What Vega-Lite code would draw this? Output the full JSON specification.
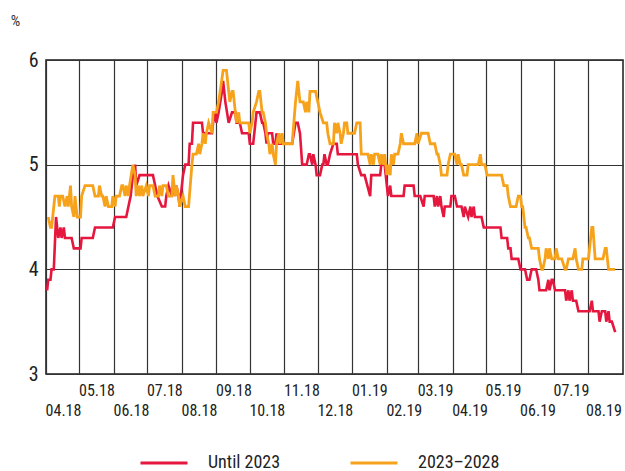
{
  "$schema": "https://vega.github.io/schema/vega-lite/v6.json",
  "width": 577,
  "height": 314,
  "autosize": {"type": "none"},
  "padding": {"left": 46, "top": 60, "right": 2, "bottom": 97},
  "background": "white",
  "config": {
    "view": {"stroke": "#1a1a1a", "strokeWidth": 1.5},
    "font": "Roboto Condensed, Liberation Sans Narrow, Roboto, sans-serif"
  },
  "datasets": {
    "rates": [
      {"date": "2018-04-02", "series": "Until 2023", "value": 3.8},
      {"date": "2018-04-03", "series": "Until 2023", "value": 3.9},
      {"date": "2018-04-05", "series": "Until 2023", "value": 3.9},
      {"date": "2018-04-06", "series": "Until 2023", "value": 4.0},
      {"date": "2018-04-08", "series": "Until 2023", "value": 4.0},
      {"date": "2018-04-10", "series": "Until 2023", "value": 4.5},
      {"date": "2018-04-12", "series": "Until 2023", "value": 4.3},
      {"date": "2018-04-14", "series": "Until 2023", "value": 4.4},
      {"date": "2018-04-15", "series": "Until 2023", "value": 4.3},
      {"date": "2018-04-17", "series": "Until 2023", "value": 4.4},
      {"date": "2018-04-18", "series": "Until 2023", "value": 4.3},
      {"date": "2018-04-24", "series": "Until 2023", "value": 4.3},
      {"date": "2018-04-26", "series": "Until 2023", "value": 4.2},
      {"date": "2018-05-02", "series": "Until 2023", "value": 4.2},
      {"date": "2018-05-03", "series": "Until 2023", "value": 4.3},
      {"date": "2018-05-13", "series": "Until 2023", "value": 4.3},
      {"date": "2018-05-15", "series": "Until 2023", "value": 4.4},
      {"date": "2018-05-31", "series": "Until 2023", "value": 4.4},
      {"date": "2018-06-02", "series": "Until 2023", "value": 4.5},
      {"date": "2018-06-12", "series": "Until 2023", "value": 4.5},
      {"date": "2018-06-14", "series": "Until 2023", "value": 4.6},
      {"date": "2018-06-16", "series": "Until 2023", "value": 4.7},
      {"date": "2018-06-18", "series": "Until 2023", "value": 4.9},
      {"date": "2018-06-20", "series": "Until 2023", "value": 5.0},
      {"date": "2018-06-21", "series": "Until 2023", "value": 4.8},
      {"date": "2018-06-24", "series": "Until 2023", "value": 4.9},
      {"date": "2018-07-06", "series": "Until 2023", "value": 4.9},
      {"date": "2018-07-08", "series": "Until 2023", "value": 4.8},
      {"date": "2018-07-10", "series": "Until 2023", "value": 4.7},
      {"date": "2018-07-14", "series": "Until 2023", "value": 4.6},
      {"date": "2018-07-17", "series": "Until 2023", "value": 4.6},
      {"date": "2018-07-18", "series": "Until 2023", "value": 4.7},
      {"date": "2018-07-20", "series": "Until 2023", "value": 4.8},
      {"date": "2018-07-23", "series": "Until 2023", "value": 4.7},
      {"date": "2018-07-24", "series": "Until 2023", "value": 4.8},
      {"date": "2018-07-26", "series": "Until 2023", "value": 4.7},
      {"date": "2018-07-27", "series": "Until 2023", "value": 4.8},
      {"date": "2018-07-29", "series": "Until 2023", "value": 4.7},
      {"date": "2018-07-30", "series": "Until 2023", "value": 4.6},
      {"date": "2018-08-01", "series": "Until 2023", "value": 4.8},
      {"date": "2018-08-02", "series": "Until 2023", "value": 4.9},
      {"date": "2018-08-04", "series": "Until 2023", "value": 5.0},
      {"date": "2018-08-07", "series": "Until 2023", "value": 5.0},
      {"date": "2018-08-08", "series": "Until 2023", "value": 5.2},
      {"date": "2018-08-10", "series": "Until 2023", "value": 5.2},
      {"date": "2018-08-11", "series": "Until 2023", "value": 5.4},
      {"date": "2018-08-19", "series": "Until 2023", "value": 5.4},
      {"date": "2018-08-20", "series": "Until 2023", "value": 5.3},
      {"date": "2018-08-28", "series": "Until 2023", "value": 5.3},
      {"date": "2018-08-29", "series": "Until 2023", "value": 5.4},
      {"date": "2018-08-31", "series": "Until 2023", "value": 5.5},
      {"date": "2018-09-01", "series": "Until 2023", "value": 5.4},
      {"date": "2018-09-03", "series": "Until 2023", "value": 5.5},
      {"date": "2018-09-06", "series": "Until 2023", "value": 5.7},
      {"date": "2018-09-07", "series": "Until 2023", "value": 5.8},
      {"date": "2018-09-09", "series": "Until 2023", "value": 5.6},
      {"date": "2018-09-12", "series": "Until 2023", "value": 5.4},
      {"date": "2018-09-15", "series": "Until 2023", "value": 5.5},
      {"date": "2018-09-18", "series": "Until 2023", "value": 5.5},
      {"date": "2018-09-19", "series": "Until 2023", "value": 5.4},
      {"date": "2018-09-22", "series": "Until 2023", "value": 5.4},
      {"date": "2018-09-24", "series": "Until 2023", "value": 5.3},
      {"date": "2018-09-30", "series": "Until 2023", "value": 5.3},
      {"date": "2018-10-01", "series": "Until 2023", "value": 5.2},
      {"date": "2018-10-04", "series": "Until 2023", "value": 5.2},
      {"date": "2018-10-06", "series": "Until 2023", "value": 5.4},
      {"date": "2018-10-07", "series": "Until 2023", "value": 5.5},
      {"date": "2018-10-10", "series": "Until 2023", "value": 5.5},
      {"date": "2018-10-12", "series": "Until 2023", "value": 5.4},
      {"date": "2018-10-13", "series": "Until 2023", "value": 5.4},
      {"date": "2018-10-15", "series": "Until 2023", "value": 5.3},
      {"date": "2018-10-16", "series": "Until 2023", "value": 5.2},
      {"date": "2018-10-17", "series": "Until 2023", "value": 5.3},
      {"date": "2018-10-21", "series": "Until 2023", "value": 5.3},
      {"date": "2018-10-22", "series": "Until 2023", "value": 5.2},
      {"date": "2018-10-24", "series": "Until 2023", "value": 5.2},
      {"date": "2018-10-25", "series": "Until 2023", "value": 5.3},
      {"date": "2018-10-27", "series": "Until 2023", "value": 5.2},
      {"date": "2018-11-08", "series": "Until 2023", "value": 5.2},
      {"date": "2018-11-11", "series": "Until 2023", "value": 5.4},
      {"date": "2018-11-13", "series": "Until 2023", "value": 5.4},
      {"date": "2018-11-15", "series": "Until 2023", "value": 5.3},
      {"date": "2018-11-17", "series": "Until 2023", "value": 5.0},
      {"date": "2018-11-21", "series": "Until 2023", "value": 5.0},
      {"date": "2018-11-23", "series": "Until 2023", "value": 5.1},
      {"date": "2018-11-24", "series": "Until 2023", "value": 5.1},
      {"date": "2018-11-26", "series": "Until 2023", "value": 5.0},
      {"date": "2018-11-27", "series": "Until 2023", "value": 5.1},
      {"date": "2018-11-29", "series": "Until 2023", "value": 5.0},
      {"date": "2018-11-30", "series": "Until 2023", "value": 4.9},
      {"date": "2018-12-03", "series": "Until 2023", "value": 4.9},
      {"date": "2018-12-05", "series": "Until 2023", "value": 5.0},
      {"date": "2018-12-06", "series": "Until 2023", "value": 5.0},
      {"date": "2018-12-07", "series": "Until 2023", "value": 5.1},
      {"date": "2018-12-09", "series": "Until 2023", "value": 5.0},
      {"date": "2018-12-10", "series": "Until 2023", "value": 5.0},
      {"date": "2018-12-12", "series": "Until 2023", "value": 5.1},
      {"date": "2018-12-15", "series": "Until 2023", "value": 5.2},
      {"date": "2018-12-18", "series": "Until 2023", "value": 5.2},
      {"date": "2018-12-19", "series": "Until 2023", "value": 5.1},
      {"date": "2019-01-05", "series": "Until 2023", "value": 5.1},
      {"date": "2019-01-06", "series": "Until 2023", "value": 5.0},
      {"date": "2019-01-09", "series": "Until 2023", "value": 4.9},
      {"date": "2019-01-12", "series": "Until 2023", "value": 4.9},
      {"date": "2019-01-17", "series": "Until 2023", "value": 4.7},
      {"date": "2019-01-18", "series": "Until 2023", "value": 4.9},
      {"date": "2019-01-26", "series": "Until 2023", "value": 4.9},
      {"date": "2019-01-27", "series": "Until 2023", "value": 5.0},
      {"date": "2019-01-30", "series": "Until 2023", "value": 5.0},
      {"date": "2019-02-01", "series": "Until 2023", "value": 4.8},
      {"date": "2019-02-02", "series": "Until 2023", "value": 4.7},
      {"date": "2019-02-04", "series": "Until 2023", "value": 4.8},
      {"date": "2019-02-05", "series": "Until 2023", "value": 4.7},
      {"date": "2019-02-16", "series": "Until 2023", "value": 4.7},
      {"date": "2019-02-17", "series": "Until 2023", "value": 4.8},
      {"date": "2019-02-25", "series": "Until 2023", "value": 4.8},
      {"date": "2019-02-26", "series": "Until 2023", "value": 4.7},
      {"date": "2019-03-03", "series": "Until 2023", "value": 4.7},
      {"date": "2019-03-06", "series": "Until 2023", "value": 4.6},
      {"date": "2019-03-07", "series": "Until 2023", "value": 4.7},
      {"date": "2019-03-15", "series": "Until 2023", "value": 4.7},
      {"date": "2019-03-16", "series": "Until 2023", "value": 4.6},
      {"date": "2019-03-18", "series": "Until 2023", "value": 4.7},
      {"date": "2019-03-19", "series": "Until 2023", "value": 4.6},
      {"date": "2019-03-21", "series": "Until 2023", "value": 4.7},
      {"date": "2019-03-22", "series": "Until 2023", "value": 4.6},
      {"date": "2019-03-24", "series": "Until 2023", "value": 4.5},
      {"date": "2019-03-25", "series": "Until 2023", "value": 4.6},
      {"date": "2019-03-30", "series": "Until 2023", "value": 4.6},
      {"date": "2019-03-31", "series": "Until 2023", "value": 4.7},
      {"date": "2019-04-03", "series": "Until 2023", "value": 4.7},
      {"date": "2019-04-05", "series": "Until 2023", "value": 4.6},
      {"date": "2019-04-09", "series": "Until 2023", "value": 4.6},
      {"date": "2019-04-11", "series": "Until 2023", "value": 4.5},
      {"date": "2019-04-12", "series": "Until 2023", "value": 4.6},
      {"date": "2019-04-15", "series": "Until 2023", "value": 4.5},
      {"date": "2019-04-17", "series": "Until 2023", "value": 4.6},
      {"date": "2019-04-18", "series": "Until 2023", "value": 4.5},
      {"date": "2019-04-20", "series": "Until 2023", "value": 4.6},
      {"date": "2019-04-21", "series": "Until 2023", "value": 4.5},
      {"date": "2019-04-27", "series": "Until 2023", "value": 4.5},
      {"date": "2019-04-29", "series": "Until 2023", "value": 4.4},
      {"date": "2019-05-14", "series": "Until 2023", "value": 4.4},
      {"date": "2019-05-15", "series": "Until 2023", "value": 4.3},
      {"date": "2019-05-20", "series": "Until 2023", "value": 4.3},
      {"date": "2019-05-21", "series": "Until 2023", "value": 4.2},
      {"date": "2019-05-23", "series": "Until 2023", "value": 4.2},
      {"date": "2019-05-24", "series": "Until 2023", "value": 4.1},
      {"date": "2019-05-30", "series": "Until 2023", "value": 4.1},
      {"date": "2019-06-01", "series": "Until 2023", "value": 4.0},
      {"date": "2019-06-05", "series": "Until 2023", "value": 4.0},
      {"date": "2019-06-07", "series": "Until 2023", "value": 3.9},
      {"date": "2019-06-09", "series": "Until 2023", "value": 3.9},
      {"date": "2019-06-11", "series": "Until 2023", "value": 4.0},
      {"date": "2019-06-15", "series": "Until 2023", "value": 4.0},
      {"date": "2019-06-17", "series": "Until 2023", "value": 3.9},
      {"date": "2019-06-18", "series": "Until 2023", "value": 3.8},
      {"date": "2019-06-24", "series": "Until 2023", "value": 3.8},
      {"date": "2019-06-26", "series": "Until 2023", "value": 3.9},
      {"date": "2019-06-27", "series": "Until 2023", "value": 3.8},
      {"date": "2019-06-29", "series": "Until 2023", "value": 3.9},
      {"date": "2019-06-30", "series": "Until 2023", "value": 3.9},
      {"date": "2019-07-02", "series": "Until 2023", "value": 3.8},
      {"date": "2019-07-11", "series": "Until 2023", "value": 3.8},
      {"date": "2019-07-12", "series": "Until 2023", "value": 3.7},
      {"date": "2019-07-14", "series": "Until 2023", "value": 3.8},
      {"date": "2019-07-15", "series": "Until 2023", "value": 3.7},
      {"date": "2019-07-17", "series": "Until 2023", "value": 3.8},
      {"date": "2019-07-18", "series": "Until 2023", "value": 3.7},
      {"date": "2019-07-21", "series": "Until 2023", "value": 3.7},
      {"date": "2019-07-23", "series": "Until 2023", "value": 3.6},
      {"date": "2019-08-02", "series": "Until 2023", "value": 3.6},
      {"date": "2019-08-04", "series": "Until 2023", "value": 3.7},
      {"date": "2019-08-05", "series": "Until 2023", "value": 3.6},
      {"date": "2019-08-10", "series": "Until 2023", "value": 3.6},
      {"date": "2019-08-11", "series": "Until 2023", "value": 3.5},
      {"date": "2019-08-13", "series": "Until 2023", "value": 3.6},
      {"date": "2019-08-16", "series": "Until 2023", "value": 3.6},
      {"date": "2019-08-17", "series": "Until 2023", "value": 3.5},
      {"date": "2019-08-19", "series": "Until 2023", "value": 3.6},
      {"date": "2019-08-20", "series": "Until 2023", "value": 3.5},
      {"date": "2019-08-22", "series": "Until 2023", "value": 3.5},
      {"date": "2019-08-25", "series": "Until 2023", "value": 3.4},

      {"date": "2018-04-03", "series": "2023–2028", "value": 4.5},
      {"date": "2018-04-05", "series": "2023–2028", "value": 4.4},
      {"date": "2018-04-06", "series": "2023–2028", "value": 4.4},
      {"date": "2018-04-07", "series": "2023–2028", "value": 4.5},
      {"date": "2018-04-09", "series": "2023–2028", "value": 4.7},
      {"date": "2018-04-12", "series": "2023–2028", "value": 4.7},
      {"date": "2018-04-13", "series": "2023–2028", "value": 4.6},
      {"date": "2018-04-14", "series": "2023–2028", "value": 4.7},
      {"date": "2018-04-16", "series": "2023–2028", "value": 4.7},
      {"date": "2018-04-18", "series": "2023–2028", "value": 4.6},
      {"date": "2018-04-20", "series": "2023–2028", "value": 4.7},
      {"date": "2018-04-21", "series": "2023–2028", "value": 4.6},
      {"date": "2018-04-23", "series": "2023–2028", "value": 4.8},
      {"date": "2018-04-24", "series": "2023–2028", "value": 4.6},
      {"date": "2018-04-26", "series": "2023–2028", "value": 4.5},
      {"date": "2018-04-27", "series": "2023–2028", "value": 4.7},
      {"date": "2018-04-29", "series": "2023–2028", "value": 4.5},
      {"date": "2018-05-02", "series": "2023–2028", "value": 4.5},
      {"date": "2018-05-03", "series": "2023–2028", "value": 4.7},
      {"date": "2018-05-06", "series": "2023–2028", "value": 4.8},
      {"date": "2018-05-13", "series": "2023–2028", "value": 4.8},
      {"date": "2018-05-15", "series": "2023–2028", "value": 4.7},
      {"date": "2018-05-18", "series": "2023–2028", "value": 4.7},
      {"date": "2018-05-19", "series": "2023–2028", "value": 4.8},
      {"date": "2018-05-21", "series": "2023–2028", "value": 4.7},
      {"date": "2018-05-22", "series": "2023–2028", "value": 4.7},
      {"date": "2018-05-24", "series": "2023–2028", "value": 4.6},
      {"date": "2018-05-25", "series": "2023–2028", "value": 4.7},
      {"date": "2018-05-27", "series": "2023–2028", "value": 4.6},
      {"date": "2018-05-30", "series": "2023–2028", "value": 4.6},
      {"date": "2018-05-31", "series": "2023–2028", "value": 4.7},
      {"date": "2018-06-02", "series": "2023–2028", "value": 4.6},
      {"date": "2018-06-03", "series": "2023–2028", "value": 4.7},
      {"date": "2018-06-06", "series": "2023–2028", "value": 4.7},
      {"date": "2018-06-08", "series": "2023–2028", "value": 4.8},
      {"date": "2018-06-09", "series": "2023–2028", "value": 4.8},
      {"date": "2018-06-11", "series": "2023–2028", "value": 4.7},
      {"date": "2018-06-12", "series": "2023–2028", "value": 4.8},
      {"date": "2018-06-14", "series": "2023–2028", "value": 4.7},
      {"date": "2018-06-15", "series": "2023–2028", "value": 4.8},
      {"date": "2018-06-18", "series": "2023–2028", "value": 5.0},
      {"date": "2018-06-20", "series": "2023–2028", "value": 4.9},
      {"date": "2018-06-21", "series": "2023–2028", "value": 4.7},
      {"date": "2018-06-23", "series": "2023–2028", "value": 4.8},
      {"date": "2018-06-24", "series": "2023–2028", "value": 4.7},
      {"date": "2018-06-26", "series": "2023–2028", "value": 4.8},
      {"date": "2018-06-27", "series": "2023–2028", "value": 4.7},
      {"date": "2018-06-30", "series": "2023–2028", "value": 4.8},
      {"date": "2018-07-02", "series": "2023–2028", "value": 4.7},
      {"date": "2018-07-03", "series": "2023–2028", "value": 4.8},
      {"date": "2018-07-06", "series": "2023–2028", "value": 4.8},
      {"date": "2018-07-08", "series": "2023–2028", "value": 4.7},
      {"date": "2018-07-11", "series": "2023–2028", "value": 4.7},
      {"date": "2018-07-12", "series": "2023–2028", "value": 4.8},
      {"date": "2018-07-14", "series": "2023–2028", "value": 4.7},
      {"date": "2018-07-15", "series": "2023–2028", "value": 4.8},
      {"date": "2018-07-18", "series": "2023–2028", "value": 4.8},
      {"date": "2018-07-20", "series": "2023–2028", "value": 4.7},
      {"date": "2018-07-23", "series": "2023–2028", "value": 4.7},
      {"date": "2018-07-24", "series": "2023–2028", "value": 4.9},
      {"date": "2018-07-26", "series": "2023–2028", "value": 4.7},
      {"date": "2018-07-27", "series": "2023–2028", "value": 4.8},
      {"date": "2018-07-29", "series": "2023–2028", "value": 4.7},
      {"date": "2018-07-30", "series": "2023–2028", "value": 4.6},
      {"date": "2018-08-02", "series": "2023–2028", "value": 4.7},
      {"date": "2018-08-04", "series": "2023–2028", "value": 4.6},
      {"date": "2018-08-07", "series": "2023–2028", "value": 4.6},
      {"date": "2018-08-10", "series": "2023–2028", "value": 5.0},
      {"date": "2018-08-11", "series": "2023–2028", "value": 5.1},
      {"date": "2018-08-14", "series": "2023–2028", "value": 5.1},
      {"date": "2018-08-16", "series": "2023–2028", "value": 5.2},
      {"date": "2018-08-17", "series": "2023–2028", "value": 5.1},
      {"date": "2018-08-19", "series": "2023–2028", "value": 5.2},
      {"date": "2018-08-20", "series": "2023–2028", "value": 5.3},
      {"date": "2018-08-22", "series": "2023–2028", "value": 5.2},
      {"date": "2018-08-23", "series": "2023–2028", "value": 5.3},
      {"date": "2018-08-25", "series": "2023–2028", "value": 5.4},
      {"date": "2018-08-28", "series": "2023–2028", "value": 5.3},
      {"date": "2018-08-29", "series": "2023–2028", "value": 5.5},
      {"date": "2018-09-01", "series": "2023–2028", "value": 5.5},
      {"date": "2018-09-03", "series": "2023–2028", "value": 5.6},
      {"date": "2018-09-07", "series": "2023–2028", "value": 5.9},
      {"date": "2018-09-10", "series": "2023–2028", "value": 5.9},
      {"date": "2018-09-12", "series": "2023–2028", "value": 5.7},
      {"date": "2018-09-13", "series": "2023–2028", "value": 5.6},
      {"date": "2018-09-15", "series": "2023–2028", "value": 5.7},
      {"date": "2018-09-16", "series": "2023–2028", "value": 5.7},
      {"date": "2018-09-18", "series": "2023–2028", "value": 5.5},
      {"date": "2018-09-19", "series": "2023–2028", "value": 5.4},
      {"date": "2018-09-21", "series": "2023–2028", "value": 5.5},
      {"date": "2018-09-22", "series": "2023–2028", "value": 5.4},
      {"date": "2018-09-30", "series": "2023–2028", "value": 5.4},
      {"date": "2018-10-01", "series": "2023–2028", "value": 5.3},
      {"date": "2018-10-03", "series": "2023–2028", "value": 5.4},
      {"date": "2018-10-04", "series": "2023–2028", "value": 5.5},
      {"date": "2018-10-07", "series": "2023–2028", "value": 5.6},
      {"date": "2018-10-09", "series": "2023–2028", "value": 5.7},
      {"date": "2018-10-10", "series": "2023–2028", "value": 5.7},
      {"date": "2018-10-12", "series": "2023–2028", "value": 5.5},
      {"date": "2018-10-13", "series": "2023–2028", "value": 5.5},
      {"date": "2018-10-15", "series": "2023–2028", "value": 5.4},
      {"date": "2018-10-16", "series": "2023–2028", "value": 5.3},
      {"date": "2018-10-18", "series": "2023–2028", "value": 5.2},
      {"date": "2018-10-19", "series": "2023–2028", "value": 5.1},
      {"date": "2018-10-21", "series": "2023–2028", "value": 5.2},
      {"date": "2018-10-22", "series": "2023–2028", "value": 5.1},
      {"date": "2018-10-24", "series": "2023–2028", "value": 5.0},
      {"date": "2018-10-25", "series": "2023–2028", "value": 5.2},
      {"date": "2018-10-27", "series": "2023–2028", "value": 5.3},
      {"date": "2018-10-28", "series": "2023–2028", "value": 5.2},
      {"date": "2018-10-30", "series": "2023–2028", "value": 5.3},
      {"date": "2018-10-31", "series": "2023–2028", "value": 5.2},
      {"date": "2018-11-08", "series": "2023–2028", "value": 5.2},
      {"date": "2018-11-11", "series": "2023–2028", "value": 5.6},
      {"date": "2018-11-13", "series": "2023–2028", "value": 5.8},
      {"date": "2018-11-15", "series": "2023–2028", "value": 5.6},
      {"date": "2018-11-18", "series": "2023–2028", "value": 5.6},
      {"date": "2018-11-20", "series": "2023–2028", "value": 5.5},
      {"date": "2018-11-21", "series": "2023–2028", "value": 5.6},
      {"date": "2018-11-23", "series": "2023–2028", "value": 5.5},
      {"date": "2018-11-24", "series": "2023–2028", "value": 5.7},
      {"date": "2018-11-29", "series": "2023–2028", "value": 5.7},
      {"date": "2018-12-01", "series": "2023–2028", "value": 5.6},
      {"date": "2018-12-03", "series": "2023–2028", "value": 5.5},
      {"date": "2018-12-06", "series": "2023–2028", "value": 5.4},
      {"date": "2018-12-09", "series": "2023–2028", "value": 5.4},
      {"date": "2018-12-10", "series": "2023–2028", "value": 5.3},
      {"date": "2018-12-12", "series": "2023–2028", "value": 5.2},
      {"date": "2018-12-15", "series": "2023–2028", "value": 5.2},
      {"date": "2018-12-16", "series": "2023–2028", "value": 5.4},
      {"date": "2018-12-18", "series": "2023–2028", "value": 5.3},
      {"date": "2018-12-19", "series": "2023–2028", "value": 5.4},
      {"date": "2018-12-21", "series": "2023–2028", "value": 5.3},
      {"date": "2018-12-22", "series": "2023–2028", "value": 5.2},
      {"date": "2018-12-24", "series": "2023–2028", "value": 5.3},
      {"date": "2018-12-25", "series": "2023–2028", "value": 5.4},
      {"date": "2018-12-27", "series": "2023–2028", "value": 5.4},
      {"date": "2018-12-28", "series": "2023–2028", "value": 5.3},
      {"date": "2019-01-03", "series": "2023–2028", "value": 5.3},
      {"date": "2019-01-05", "series": "2023–2028", "value": 5.4},
      {"date": "2019-01-08", "series": "2023–2028", "value": 5.4},
      {"date": "2019-01-09", "series": "2023–2028", "value": 5.1},
      {"date": "2019-01-15", "series": "2023–2028", "value": 5.1},
      {"date": "2019-01-17", "series": "2023–2028", "value": 5.0},
      {"date": "2019-01-18", "series": "2023–2028", "value": 5.1},
      {"date": "2019-01-20", "series": "2023–2028", "value": 5.0},
      {"date": "2019-01-21", "series": "2023–2028", "value": 5.1},
      {"date": "2019-01-24", "series": "2023–2028", "value": 5.1},
      {"date": "2019-01-26", "series": "2023–2028", "value": 5.0},
      {"date": "2019-01-27", "series": "2023–2028", "value": 5.1},
      {"date": "2019-01-29", "series": "2023–2028", "value": 5.0},
      {"date": "2019-01-30", "series": "2023–2028", "value": 5.1},
      {"date": "2019-02-01", "series": "2023–2028", "value": 4.9},
      {"date": "2019-02-02", "series": "2023–2028", "value": 5.0},
      {"date": "2019-02-04", "series": "2023–2028", "value": 4.9},
      {"date": "2019-02-05", "series": "2023–2028", "value": 5.1},
      {"date": "2019-02-07", "series": "2023–2028", "value": 5.0},
      {"date": "2019-02-08", "series": "2023–2028", "value": 5.1},
      {"date": "2019-02-11", "series": "2023–2028", "value": 5.1},
      {"date": "2019-02-13", "series": "2023–2028", "value": 5.2},
      {"date": "2019-02-14", "series": "2023–2028", "value": 5.3},
      {"date": "2019-02-16", "series": "2023–2028", "value": 5.2},
      {"date": "2019-02-26", "series": "2023–2028", "value": 5.2},
      {"date": "2019-02-28", "series": "2023–2028", "value": 5.3},
      {"date": "2019-03-01", "series": "2023–2028", "value": 5.2},
      {"date": "2019-03-04", "series": "2023–2028", "value": 5.3},
      {"date": "2019-03-10", "series": "2023–2028", "value": 5.3},
      {"date": "2019-03-12", "series": "2023–2028", "value": 5.2},
      {"date": "2019-03-16", "series": "2023–2028", "value": 5.2},
      {"date": "2019-03-18", "series": "2023–2028", "value": 5.1},
      {"date": "2019-03-19", "series": "2023–2028", "value": 5.1},
      {"date": "2019-03-21", "series": "2023–2028", "value": 5.0},
      {"date": "2019-03-22", "series": "2023–2028", "value": 4.9},
      {"date": "2019-03-27", "series": "2023–2028", "value": 4.9},
      {"date": "2019-03-28", "series": "2023–2028", "value": 5.0},
      {"date": "2019-03-30", "series": "2023–2028", "value": 5.1},
      {"date": "2019-04-03", "series": "2023–2028", "value": 5.1},
      {"date": "2019-04-05", "series": "2023–2028", "value": 5.0},
      {"date": "2019-04-06", "series": "2023–2028", "value": 5.1},
      {"date": "2019-04-08", "series": "2023–2028", "value": 5.0},
      {"date": "2019-04-09", "series": "2023–2028", "value": 5.0},
      {"date": "2019-04-11", "series": "2023–2028", "value": 4.9},
      {"date": "2019-04-14", "series": "2023–2028", "value": 4.9},
      {"date": "2019-04-15", "series": "2023–2028", "value": 5.0},
      {"date": "2019-04-24", "series": "2023–2028", "value": 5.0},
      {"date": "2019-04-26", "series": "2023–2028", "value": 5.1},
      {"date": "2019-04-27", "series": "2023–2028", "value": 5.0},
      {"date": "2019-04-30", "series": "2023–2028", "value": 5.0},
      {"date": "2019-05-02", "series": "2023–2028", "value": 4.9},
      {"date": "2019-05-15", "series": "2023–2028", "value": 4.9},
      {"date": "2019-05-17", "series": "2023–2028", "value": 4.8},
      {"date": "2019-05-20", "series": "2023–2028", "value": 4.8},
      {"date": "2019-05-21", "series": "2023–2028", "value": 4.7},
      {"date": "2019-05-23", "series": "2023–2028", "value": 4.6},
      {"date": "2019-05-28", "series": "2023–2028", "value": 4.6},
      {"date": "2019-05-30", "series": "2023–2028", "value": 4.7},
      {"date": "2019-06-01", "series": "2023–2028", "value": 4.7},
      {"date": "2019-06-02", "series": "2023–2028", "value": 4.6},
      {"date": "2019-06-03", "series": "2023–2028", "value": 4.6},
      {"date": "2019-06-05", "series": "2023–2028", "value": 4.4},
      {"date": "2019-06-06", "series": "2023–2028", "value": 4.4},
      {"date": "2019-06-08", "series": "2023–2028", "value": 4.3},
      {"date": "2019-06-09", "series": "2023–2028", "value": 4.3},
      {"date": "2019-06-11", "series": "2023–2028", "value": 4.2},
      {"date": "2019-06-17", "series": "2023–2028", "value": 4.2},
      {"date": "2019-06-18", "series": "2023–2028", "value": 4.1},
      {"date": "2019-06-20", "series": "2023–2028", "value": 4.0},
      {"date": "2019-06-21", "series": "2023–2028", "value": 4.0},
      {"date": "2019-06-23", "series": "2023–2028", "value": 4.1},
      {"date": "2019-06-24", "series": "2023–2028", "value": 4.2},
      {"date": "2019-06-26", "series": "2023–2028", "value": 4.1},
      {"date": "2019-06-27", "series": "2023–2028", "value": 4.2},
      {"date": "2019-06-29", "series": "2023–2028", "value": 4.1},
      {"date": "2019-07-02", "series": "2023–2028", "value": 4.1},
      {"date": "2019-07-03", "series": "2023–2028", "value": 4.2},
      {"date": "2019-07-05", "series": "2023–2028", "value": 4.1},
      {"date": "2019-07-08", "series": "2023–2028", "value": 4.1},
      {"date": "2019-07-11", "series": "2023–2028", "value": 4.0},
      {"date": "2019-07-12", "series": "2023–2028", "value": 4.0},
      {"date": "2019-07-14", "series": "2023–2028", "value": 4.1},
      {"date": "2019-07-18", "series": "2023–2028", "value": 4.1},
      {"date": "2019-07-20", "series": "2023–2028", "value": 4.2},
      {"date": "2019-07-21", "series": "2023–2028", "value": 4.1},
      {"date": "2019-07-23", "series": "2023–2028", "value": 4.0},
      {"date": "2019-07-26", "series": "2023–2028", "value": 4.0},
      {"date": "2019-07-27", "series": "2023–2028", "value": 4.1},
      {"date": "2019-08-01", "series": "2023–2028", "value": 4.1},
      {"date": "2019-08-02", "series": "2023–2028", "value": 4.2},
      {"date": "2019-08-04", "series": "2023–2028", "value": 4.4},
      {"date": "2019-08-05", "series": "2023–2028", "value": 4.4},
      {"date": "2019-08-07", "series": "2023–2028", "value": 4.1},
      {"date": "2019-08-14", "series": "2023–2028", "value": 4.1},
      {"date": "2019-08-16", "series": "2023–2028", "value": 4.2},
      {"date": "2019-08-17", "series": "2023–2028", "value": 4.2},
      {"date": "2019-08-19", "series": "2023–2028", "value": 4.0},
      {"date": "2019-08-25", "series": "2023–2028", "value": 4.0}
    ]
  },
  "data": {"name": "rates"},
  "encoding": {
    "x": {
      "field": "date",
      "type": "temporal",
      "scale": {"domain": [{"year": 2018, "month": 4, "date": 1}, {"year": 2019, "month": 9, "date": 1}]},
      "axis": {
        "title": null,
        "values": [
          {"year": 2018, "month": 4, "date": 1},
          {"year": 2018, "month": 5, "date": 1},
          {"year": 2018, "month": 6, "date": 1},
          {"year": 2018, "month": 7, "date": 1},
          {"year": 2018, "month": 8, "date": 1},
          {"year": 2018, "month": 9, "date": 1},
          {"year": 2018, "month": 10, "date": 1},
          {"year": 2018, "month": 11, "date": 1},
          {"year": 2018, "month": 12, "date": 1},
          {"year": 2019, "month": 1, "date": 1},
          {"year": 2019, "month": 2, "date": 1},
          {"year": 2019, "month": 3, "date": 1},
          {"year": 2019, "month": 4, "date": 1},
          {"year": 2019, "month": 5, "date": 1},
          {"year": 2019, "month": 6, "date": 1},
          {"year": 2019, "month": 7, "date": 1},
          {"year": 2019, "month": 8, "date": 1}
        ],
        "grid": true,
        "gridColor": "#333333",
        "gridWidth": 1.2,
        "ticks": false,
        "domain": false,
        "labelExpr": "timeFormat(datum.value, '%m.%y')",
        "labelOffset": {"expr": "year(datum.value) == 2019 && month(datum.value) == 7 ? 15 : 17"},
        "labelPadding": {"expr": "month(datum.value) % 2 == 1 ? 28 : 8"},
        "labelBaseline": "top",
        "labelFontSize": 16,
        "labelColor": "#222222",
        "labelOverlap": false,
        "labelFlush": false,
        "labelBound": false
      }
    },
    "y": {
      "field": "value",
      "type": "quantitative",
      "scale": {"domain": [3, 6], "nice": false, "zero": false},
      "axis": {
        "values": [3, 4, 5, 6],
        "grid": true,
        "gridColor": "#333333",
        "gridWidth": 1.2,
        "ticks": false,
        "domain": false,
        "labelFontSize": 20,
        "labelPadding": 8,
        "labelColor": "#222222",
        "title": "%",
        "titleAngle": 0,
        "titleX": -31,
        "titleY": -40,
        "titleAlign": "center",
        "titleBaseline": "middle",
        "titleFontSize": 15,
        "titleFontWeight": "normal",
        "titleColor": "#333333"
      }
    },
    "color": {
      "field": "series",
      "type": "nominal",
      "scale": {"domain": ["Until 2023", "2023–2028"], "range": ["#e5173f", "#f7a21b"]},
      "legend": {
        "title": null,
        "orient": "none",
        "direction": "horizontal",
        "legendX": 109,
        "legendY": 394,
        "symbolType": "M-4,0H4",
        "symbolSize": 138,
        "symbolStrokeWidth": 3,
        "labelFontSize": 18,
        "labelOffset": 35,
        "labelLimit": 200,
        "columnPadding": 63,
        "labelColor": "#222222"
      }
    }
  },
  "layer": [
    {
      "transform": [{"filter": "datum.series == 'Until 2023'"}],
      "mark": {"type": "line", "strokeWidth": 2.6, "interpolate": "linear"}
    },
    {
      "transform": [{"filter": "datum.series != 'Until 2023'"}],
      "mark": {"type": "line", "strokeWidth": 2.8, "interpolate": "linear"}
    }
  ]
}
